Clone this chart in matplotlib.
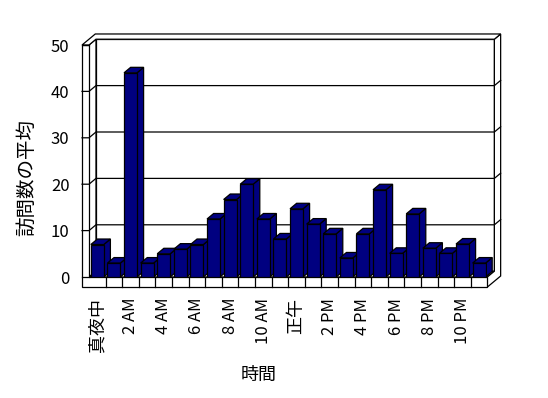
import matplotlib.pyplot as plt
from matplotlib.patches import Polygon

plt.rcParams['font.family'] = ['Noto Sans CJK JP', 'DejaVu Sans']

# average visits per hour of day
hours = list(range(24))
visits = [7, 3, 44, 3, 5, 6, 7, 12.5, 16.7, 20, 12.5, 8.2,
          14.7, 11.4, 9.3, 4.1, 9.3, 18.8, 5.1, 13.6, 6.2, 5.1, 7.1, 3]
tick_pos = list(range(0, 24, 2))
tick_labels = ['真夜中', '2 AM', '4 AM', '6 AM', '8 AM', '10 AM',
               '正午', '2 PM', '4 PM', '6 PM', '8 PM', '10 PM']
y_ticks = [0, 10, 20, 30, 40, 50]

BAR = '#000080'
LW = 0.9

fig = plt.figure(figsize=(5.48, 3.98), dpi=100)
ax = fig.add_axes([89 / 548, (398 - 277) / 398, 398.4 / 548, 232 / 398])
ax.set_xlim(-0.5, 23.5)
ax.set_ylim(0, 50)
ax.patch.set_visible(False)
for s in ax.spines.values():
    s.set_visible(False)

# oblique depth vector (data units per unit of depth)
dx, dy = 0.42, 1.25
xl, xr = -0.5, 23.5
ymax = 50
wall = 0.42     # left wall thickness
floor = 2.16    # floor thickness
outer = 1.9     # depth including back wall slab


def poly(pts, fc='white', z=1):
    ax.add_patch(Polygon(pts, closed=True, facecolor=fc, edgecolor='black',
                         lw=LW, zorder=z, clip_on=False, joinstyle='miter'))


def line(xs, ys, z=1.5):
    ax.plot(xs, ys, color='black', lw=LW, zorder=z, clip_on=False)


# back wall inner face
poly([(xl + dx, dy), (xr + dx, dy), (xr + dx, ymax + dy), (xl + dx, ymax + dy)])
# left wall inner face
poly([(xl, 0), (xl + dx, dy), (xl + dx, ymax + dy), (xl, ymax)])
# floor top
poly([(xl, 0), (xr, 0), (xr + dx, dy), (xl + dx, dy)])
# right side of floor + back wall
poly([(xr, -floor), (xr, 0), (xr + dx, dy), (xr + dx, ymax + dy),
      (xr + outer * dx, ymax + outer * dy), (xr + outer * dx, -floor + outer * dy)])
# top of left + back walls
poly([(xl - wall, ymax), (xl, ymax), (xl + dx, ymax + dy), (xr + dx, ymax + dy),
      (xr + outer * dx, ymax + outer * dy), (xl - wall + outer * dx, ymax + outer * dy)])
# front face of floor + left wall
poly([(xl - wall, -floor), (xr, -floor), (xr, 0), (xl, 0), (xl, ymax),
      (xl - wall, ymax)])

# gridlines
for v in y_ticks[1:-1]:
    line([xl - wall, xl, xl + dx, xr + dx, xr + outer * dx],
         [v, v, v + dy, v + dy, v + outer * dy])
for v in [0, ymax]:
    line([xl - wall, xl], [v, v])
# floor front dividers
for k in range(1, 24):
    line([k - 0.5, k - 0.5], [-floor, 0])

# bars
w = 0.78
bdx, bdy = 0.95 * dx, 0.95 * dy
for i, v in zip(hours, visits):
    l, r = i - w / 2, i + w / 2
    poly([(r, 0), (r + bdx, bdy), (r + bdx, v + bdy), (r, v)], fc=BAR, z=2 + i * 0.01)
    poly([(l, v), (r, v), (r + bdx, v + bdy), (l + bdx, v + bdy)], fc=BAR, z=2 + i * 0.01)
ax.bar(hours, visits, width=w, color=BAR, edgecolor='black', lw=LW, zorder=3)

ax.set_xticks(tick_pos)
ax.set_xticklabels(tick_labels, rotation=90, fontsize=12)
for t in ax.get_xticklabels():
    if not t.get_text()[0].isdigit():
        t.set_fontsize(13)
ax.set_yticks(y_ticks)
ax.set_yticklabels([str(v) for v in y_ticks], fontsize=12)
ax.tick_params(axis='x', length=0, pad=15)
ax.tick_params(axis='y', length=0, pad=14)

ax.set_xlabel('時間', fontsize=13)
ax.xaxis.set_label_coords(0.427, -0.422)
ax.xaxis.label.set_va('center')
ax.set_ylabel('訪問数の平均', fontsize=14)
ax.yaxis.set_label_coords(-0.156, 0.431)
ax.yaxis.label.set_va('center')

fig.savefig('out.png', dpi=100)
